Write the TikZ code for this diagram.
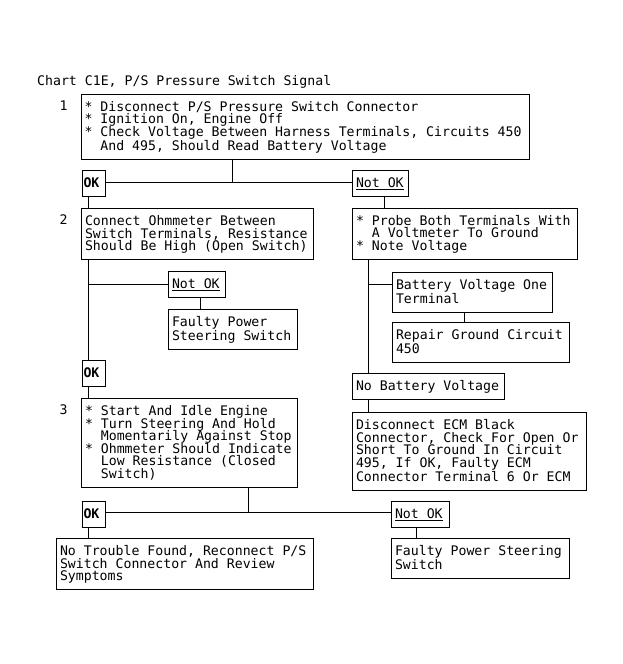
\documentclass[tikz,border=0pt]{standalone}
\usepackage{fontspec}
\newfontfamily\dmono{DejaVu Sans Mono}
\newcommand\Fs{\spaceskip=0pt\xspaceskip=0pt\lineskiplimit=-20pt\lineskip=0pt\rule{0pt}{11.5pt}}
\newcommand\Ls{\rule[-3.5pt]{0pt}{3.5pt}}
\newcommand\ind{\phantom{**}}
\frenchspacing
\tikzset{
  txt/.style={inner sep=0pt, font=\dmono\fontsize{13.2}{12.5}\selectfont},
  box/.style={draw, line width=1pt, anchor=north west, align=left,
    inner xsep=3.5pt, inner ysep=5.7pt, font=\dmono\fontsize{13.2}{12.5}\selectfont},
  tag/.style={box},
  oktag/.style={box, inner xsep=1.5pt, font=\dmono\bfseries\fontsize{13.2}{12.5}\selectfont},
  ln/.style={line width=1pt}
}
\begin{document}
\begin{tikzpicture}[x=1pt,y=-1pt]
\fill[white] (0,0) rectangle (623,664);
\useasboundingbox (0,0) rectangle (623,664);
% title and step numbers
\node[txt, anchor=base west] (title) at (37,85) {Chart C1E, P/S Pressure Switch Signal};
\node[txt, anchor=base west] (n1) at (59.5,110.7) {1};
\node[txt, anchor=base west] (n2) at (59.5,224) {2};
\node[txt, anchor=base west] (n3) at (59.5,414) {3};
% boxes
\node[box, text width=441.5pt] (b1) at (80.5,93.5) {\Fs* Disconnect P/S Pressure Switch Connector\\{}* Ignition On, Engine Off\\{}* Check Voltage Between Harness Terminals, Circuits 450\\\ind And 495, Should Read Battery Voltage\Ls};
\node[oktag, text width=20pt] (ok1) at (81.5,170) {\Fs OK\Ls};
\node[tag, text width=49pt] (no1) at (352,169.5) {\Fs\underline{Not OK}\Ls};
\node[box, text width=225pt] (b2) at (81,208) {\Fs Connect Ohmmeter Between\\Switch Terminals, Resistance\\Should Be High (Open Switch)\Ls};
\node[box, text width=218pt] (bp) at (352,207.5) {\Fs* Probe Both Terminals With\\\ind A Voltmeter To Ground\\{}* Note Voltage\Ls};
\node[tag, text width=50pt] (no2) at (168,271) {\Fs\underline{Not OK}\Ls};
\node[box, text width=122pt] (f1) at (168,309) {\Fs Faulty Power\\Steering Switch\Ls};
\node[oktag, text width=20pt] (ok2) at (81.5,359.5) {\Fs OK\Ls};
\node[box, text width=153pt] (bv) at (392,272) {\Fs Battery Voltage One\\Terminal\Ls};
\node[box, text width=170pt] (rg) at (392,322) {\Fs Repair Ground Circuit\\450\Ls};
\node[tag, text width=145pt] (nb) at (352,372.5) {\Fs No Battery Voltage\Ls};
\node[box, text width=227pt] (ecm) at (352,412) {\Fs Disconnect ECM Black\\Connector, Check For Open Or\\Short To Ground In Circuit\\495, If OK, Faulty ECM\\Connector Terminal 6 Or ECM\Ls};
\node[box, text width=209pt] (b3) at (81,398) {\Fs* Start And Idle Engine\\{}* Turn Steering And Hold\\\ind Momentarily Against Stop\\{}* Ohmmeter Should Indicate\\\ind Low Resistance (Closed\\\ind Switch)\Ls};
\node[oktag, text width=20pt] (ok3) at (81.5,500.5) {\Fs OK\Ls};
\node[tag, text width=51pt] (no3) at (391,500.5) {\Fs\underline{Not OK}\Ls};
\node[box, text width=250pt] (ntf) at (56,538) {\Fs No Trouble Found, Reconnect P/S\\Switch Connector And Review\\Symptoms\Ls};
\node[box, text width=171pt] (f2) at (391,538) {\Fs Faulty Power Steering\\Switch\Ls};
% connectors
\coordinate (j1) at (232.5,182.5);
\draw[ln] (b1.south -| j1) -- (j1);
\draw[ln] (ok1.east |- j1) -- (no1.west |- j1);
\coordinate (xl) at (88.5,0);
\draw[ln] (ok1.south -| xl) -- (b2.north -| xl);
\draw[ln] (b2.south -| xl) -- (ok2.north -| xl);
\coordinate (j2) at (88.5,284.5);
\draw[ln] (j2) -- (no2.west |- j2);
\coordinate (xn2) at (200.5,0);
\draw[ln] (no2.south -| xn2) -- (f1.north -| xn2);
\draw[ln] (ok2.south -| xl) -- (b3.north -| xl);
\coordinate (xn1) at (384.5,0);
\draw[ln] (no1.south -| xn1) -- (bp.north -| xn1);
\coordinate (xr) at (368.5,0);
\draw[ln] (bp.south -| xr) -- (nb.north -| xr);
\coordinate (j3) at (368.5,284.5);
\draw[ln] (j3) -- (bv.west |- j3);
\coordinate (xbv) at (464.5,0);
\draw[ln] (bv.south -| xbv) -- (rg.north -| xbv);
\draw[ln] (nb.south -| xr) -- (ecm.north -| xr);
\coordinate (j4) at (248.5,512.5);
\draw[ln] (b3.south -| j4) -- (j4);
\draw[ln] (ok3.east |- j4) -- (no3.west |- j4);
\draw[ln] (ok3.south -| xl) -- (ntf.north -| xl);
\coordinate (xn3) at (416.5,0);
\draw[ln] (no3.south -| xn3) -- (f2.north -| xn3);
\end{tikzpicture}
\end{document}
